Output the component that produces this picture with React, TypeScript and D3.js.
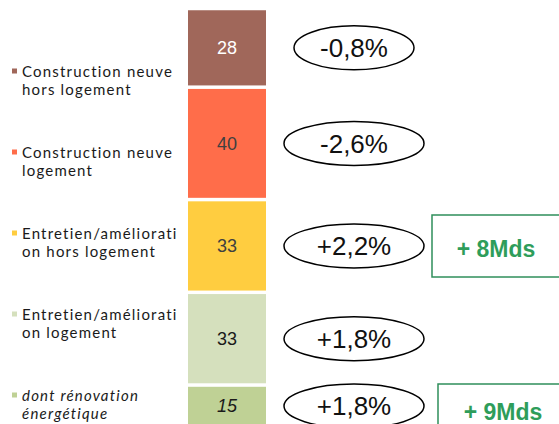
import * as d3 from "d3";

// stacked segments, top to bottom
const categories = [
  ["Construction neuve", "hors logement"],
  ["Construction neuve", "logement"],
  ["Entretien/améliorati", "on hors logement"],
  ["Entretien/améliorati", "on logement"],
  ["dont rénovation", "énergétique"],
];
const values = [28, 40, 33, 33, 15];
const changes = ["-0,8%", "-2,6%", "+2,2%", "+1,8%", "+1,8%"];
const colors = ["#A0675A", "#FF6D4A", "#FFCD40", "#D5E0BD", "#BFD195"];
const valueColors = ["#ffffff", "#404040", "#404040", "#1a1a1a", "#1a1a1a"];
const boxLabels = [null, null, "+ 8Mds", null, "+ 9Mds"];

const W = 559;
const H = 424;
const gap = 3.5;
const ellipseRx = [60, 70, 70, 70, 70];

export default function App() {
  const ends = d3.cumsum(values);
  const starts = values.map((v, i) => ends[i] - v);
  const total = d3.sum(values);

  const y = d3.scaleLinear().domain([0, total]).range([8.5, 8.5 + total * 2.81]);
  const x0 = 188;
  const barW = 78;
  const legendY = d3.scaleLinear().domain([0, 1]).range([71, 152]);

  return (
    <svg
      width={W}
      height={H}
      style={{ position: "fixed", left: 0, top: 0, background: "#fff" }}
    >
      {values.map((v, i) => {
        const top = y(starts[i]) + gap / 2;
        const bottom = y(ends[i]) - gap / 2;
        const cy = (top + bottom) / 2;
        const italic = i === 4;
        return (
          <g key={i}>
            <rect x={x0} y={top} width={barW} height={bottom - top} fill={colors[i]} />
            <text
              x={x0 + barW / 2}
              y={cy}
              dy="0.35em"
              textAnchor="middle"
              fontFamily="Liberation Sans, Arial, sans-serif"
              fontSize={18}
              fontStyle={italic ? "italic" : "normal"}
              fill={valueColors[i]}
            >
              {v}
            </text>
            <ellipse
              cx={354}
              cy={cy}
              rx={ellipseRx[i]}
              ry={22}
              fill="#fff"
              stroke="#000"
              strokeWidth={1.5}
            />
            <text
              x={354}
              y={cy}
              dy="0.36em"
              textAnchor="middle"
              fontFamily="Liberation Sans, Arial, sans-serif"
              fontSize={26}
              fill="#111"
            >
              {changes[i]}
            </text>
            {boxLabels[i] && (
              <g>
                <rect
                  x={i === 2 ? 432 : 438}
                  y={i === 2 ? 215 : 384}
                  width={140}
                  height={62}
                  fill="#fff"
                  stroke="#2F8F5B"
                  strokeWidth={1.5}
                />
                <text
                  x={i === 2 ? 496 : 503}
                  y={i === 2 ? 249 : 412}
                  dy="0.36em"
                  textAnchor="middle"
                  fontFamily="Liberation Sans, Arial, sans-serif"
                  fontWeight="bold"
                  fontSize={23}
                  fill="#2E9D5A"
                >
                  {boxLabels[i]}
                </text>
              </g>
            )}
          </g>
        );
      })}
      {categories.map((lines, i) => {
        const ly = legendY(i);
        return (
          <g key={"l" + i}>
            <rect x={12} y={ly - 2.5} width={5} height={5} fill={colors[i]} />
            {lines.map((t, j) => (
              <text
                key={j}
                x={22}
                y={ly + 6 + j * 18}
                fontFamily="Lato, Carlito, sans-serif"
                fontSize={15}
                letterSpacing={1.2}
                fontStyle={i === 4 ? "italic" : "normal"}
                fill="#1a1a1a"
              >
                {t}
              </text>
            ))}
          </g>
        );
      })}
    </svg>
  );
}
